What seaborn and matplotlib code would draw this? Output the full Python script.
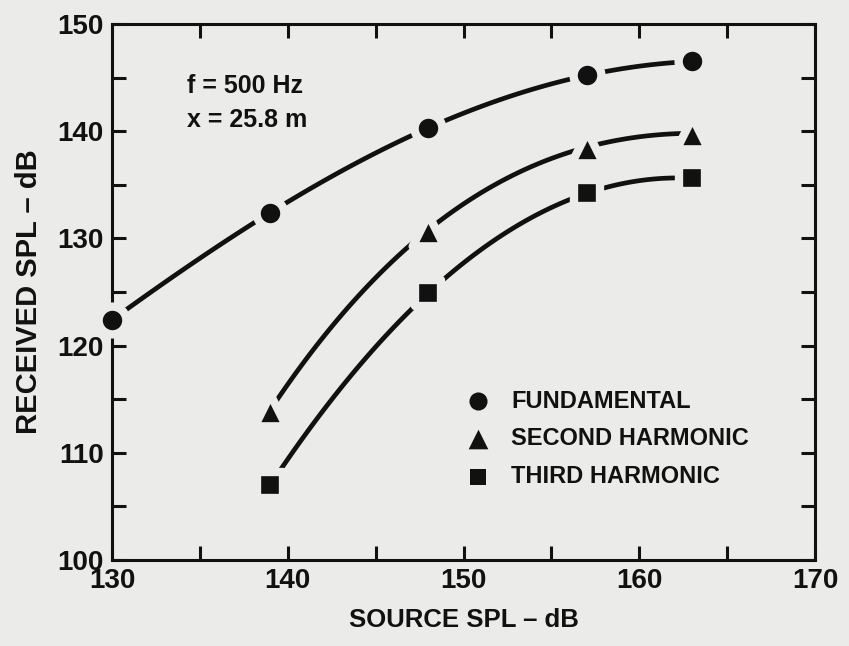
import numpy as np
import pandas as pd
import seaborn as sns
import matplotlib.pyplot as plt
from matplotlib.ticker import MultipleLocator

# values
src_fund = [130, 139, 148, 157, 163]
rec_fund = [122.4, 132.4, 140.3, 145.2, 146.5]
src_harm = [139, 148, 157, 163]
rec_second = [114.0, 130.8, 138.5, 139.8]
rec_third = [107.0, 124.9, 134.2, 135.6]

series = [
    ('FUNDAMENTAL', src_fund, rec_fund, 'o', 4, 400),
    ('SECOND HARMONIC', src_harm, rec_second, '^', 3, 520),
    ('THIRD HARMONIC', src_harm, rec_third, 's', 3, 330),
]

paper = '#ebebe9'
ink = '#111111'

sns.set_style('ticks')
plt.rcParams['font.family'] = ['Liberation Sans', 'DejaVu Sans']
plt.rcParams['font.weight'] = 'bold'
plt.rcParams['axes.linewidth'] = 2.2

fig = plt.figure(figsize=(8.49, 6.46), dpi=100, facecolor=paper)
ax = fig.add_axes([0.132, 0.133, 0.828, 0.830])
ax.set_facecolor(paper)

for name, xs, ys, mk, order, size in series:
    df = pd.DataFrame({'src': xs, 'rec': ys})
    sns.regplot(data=df, x='src', y='rec', order=order, ci=None, ax=ax,
                marker=mk,
                scatter_kws={'s': size, 'color': ink, 'edgecolors': paper,
                             'linewidths': 6, 'zorder': 3, 'clip_on': False,
                             'alpha': 1},
                line_kws={'color': ink, 'lw': 3.4, 'zorder': 2,
                          'solid_capstyle': 'round'})

ax.set_xlim(130, 170)
ax.set_ylim(100, 150)
ax.xaxis.set_major_locator(MultipleLocator(10))
ax.xaxis.set_minor_locator(MultipleLocator(5))
ax.yaxis.set_major_locator(MultipleLocator(10))
ax.yaxis.set_minor_locator(MultipleLocator(5))
ax.tick_params(which='both', direction='in', length=10, width=2.2,
               top=True, right=True, color=ink)
ax.tick_params(which='major', labelsize=20, pad=6, labelcolor=ink)
for lab in ax.get_xticklabels() + ax.get_yticklabels():
    lab.set_fontweight('bold')
for sp in ax.spines.values():
    sp.set_color(ink)

ax.set_xlabel('SOURCE SPL \u2013 dB', fontsize=18.5, fontweight='bold',
              color=ink, labelpad=10)
ax.set_ylabel('RECEIVED SPL \u2013 dB', fontsize=21, fontweight='bold',
              color=ink, labelpad=10)

ax.text(0.107, 0.885, 'f = 500 Hz', transform=ax.transAxes, fontsize=18,
        fontweight='bold', color=ink, va='center')
ax.text(0.107, 0.82, 'x = 25.8 m', transform=ax.transAxes, fontsize=18,
        fontweight='bold', color=ink, va='center')

handles = list(ax.collections)
names = [s[0] for s in series]
leg = ax.legend(handles, names, loc='upper left', bbox_to_anchor=(0.47, 0.34),
                frameon=False, fontsize=17, handletextpad=0.4,
                labelspacing=0.62, markerscale=1, borderpad=0)
for h, sz in zip(leg.legend_handles, [170, 200, 140]):
    h.set_linewidth(0)
    h.set_sizes([sz])
for t in leg.get_texts():
    t.set_fontweight('bold')
    t.set_color(ink)

fig.savefig('out.png', dpi=100, facecolor=paper)
